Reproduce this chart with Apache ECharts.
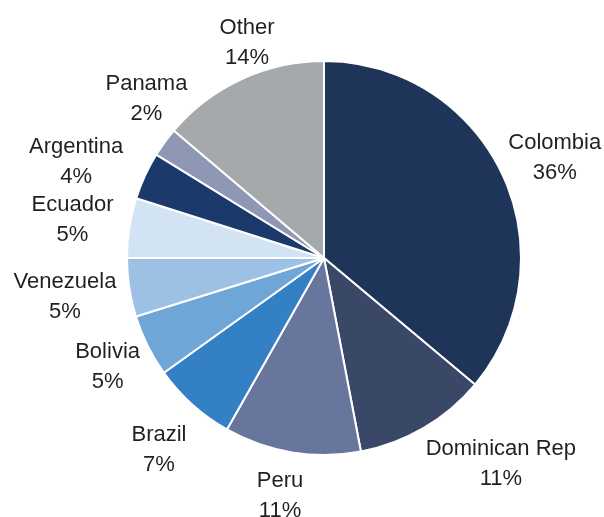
<!DOCTYPE html>
<html>
<head>
<meta charset="utf-8">
<script src="https://cdn.jsdelivr.net/npm/echarts@6/dist/echarts.min.js"></script>
<style>
html,body{margin:0;padding:0;background:#fff;}
#chart{width:604px;height:517px;}
</style>
</head>
<body>
<div id="chart"></div>
<script>
const categories = ['Colombia','Dominican Rep','Peru','Brazil','Bolivia','Venezuela','Ecuador','Argentina','Panama','Other'];
const values = [36.1, 10.9, 11.2, 6.9, 5.1, 4.8, 4.9, 3.9, 2.4, 13.8];
const colors = ['#1e3459','#3a4867','#68769e','#3381c4','#6fa6d8','#9cc1e5','#d2e4f3','#1c396c','#8e98b5','#a6a9ac'];

// label style nudges (px), applied after the radial placement
const labelNudge = {
  'Colombia': [-6, 10], 'Dominican Rep': [57, 2], 'Peru': [-6, 8], 'Brazil': [-4, 13],
  'Bolivia': [4, -1], 'Venezuela': [0, 0], 'Ecuador': [-3, 0], 'Argentina': [-10, 13],
  'Panama': [24, -13], 'Other': [22, -1]
};

const CX = 324, CY = 258, R = 197, EDGE = 210;

const chart = echarts.init(document.getElementById('chart'), null, {renderer: 'canvas'});
chart.setOption({
  backgroundColor: '#fff',
  animation: false,
  series: [{
    type: 'pie',
    center: [CX, CY],
    radius: [0, R],
    startAngle: 90,
    clockwise: true,
    silent: true,
    itemStyle: {borderColor: '#fff', borderWidth: 2},
    label: {
      show: true,
      position: 'inside',
      formatter: function (p) { return p.name + '\n' + Math.round(p.percent) + '%'; },
      fontFamily: 'Liberation Sans, Arial, sans-serif',
      fontSize: 22,
      lineHeight: 30,
      color: '#231f20',
      align: 'center',
      verticalAlign: 'middle'
    },
    labelLine: {show: false},
    labelLayout: function (params) {
      const r = params.labelRect;
      const lx = r.x + r.width / 2, ly = r.y + r.height / 2;
      let dx = lx - CX, dy = ly - CY;
      const len = Math.sqrt(dx * dx + dy * dy) || 1;
      dx /= len; dy /= len;
      const hw = r.width / 2, hh = r.height / 2 - 7;
      const ext = Math.min(Math.abs(dx) > 1e-6 ? hw / Math.abs(dx) : 1e9,
                           Math.abs(dy) > 1e-6 ? hh / Math.abs(dy) : 1e9);
      const d = EDGE + ext;
      const n = labelNudge[categories[params.dataIndex]] || [0, 0];
      return {x: CX + dx * d + n[0], y: CY + dy * d + n[1], align: 'center', verticalAlign: 'middle'};
    },
    data: categories.map((c, i) => ({name: c, value: values[i], itemStyle: {color: colors[i]}}))
  }]
});
</script>
</body>
</html>
